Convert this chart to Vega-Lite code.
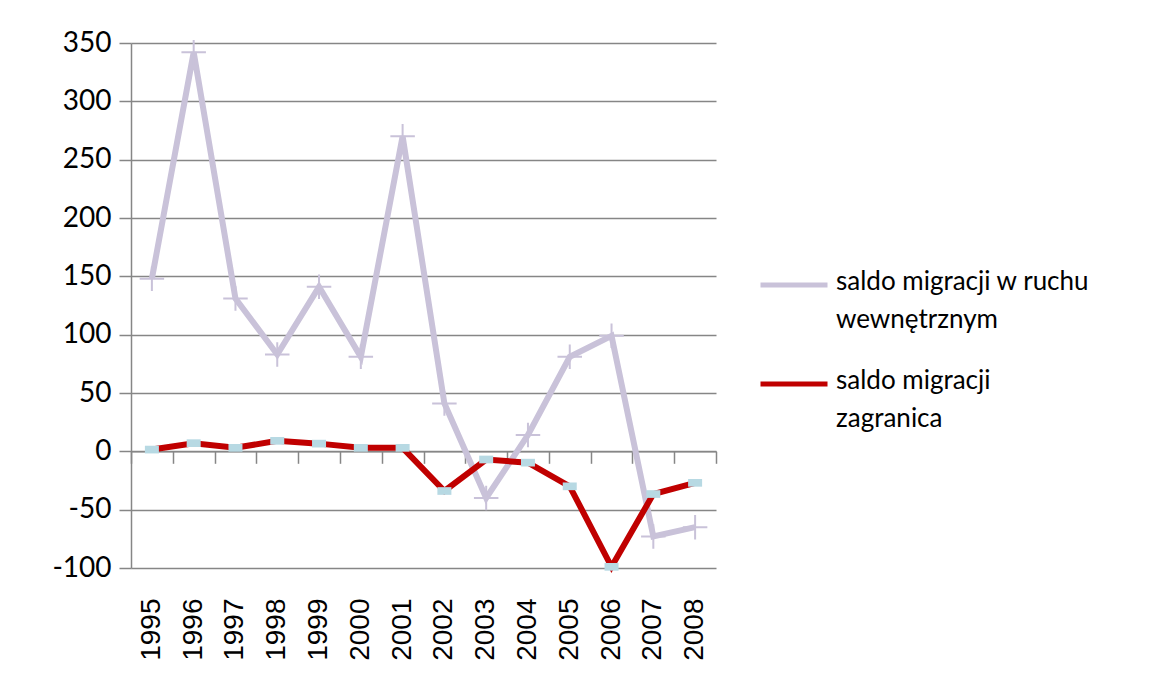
{
  "$schema": "https://vega.github.io/schema/vega-lite/v6.json",
  "autosize": {"type": "none"},
  "padding": {"left": 131, "top": 43, "right": 434, "bottom": 121},
  "width": 585,
  "height": 525,
  "background": "white",
  "config": {"view": {"stroke": null}},
  "data": {"values": [
    {"year": "1995", "series": "saldo migracji w ruchu wewnętrznym", "value": 148},
    {"year": "1996", "series": "saldo migracji w ruchu wewnętrznym", "value": 342},
    {"year": "1997", "series": "saldo migracji w ruchu wewnętrznym", "value": 131},
    {"year": "1998", "series": "saldo migracji w ruchu wewnętrznym", "value": 83},
    {"year": "1999", "series": "saldo migracji w ruchu wewnętrznym", "value": 141},
    {"year": "2000", "series": "saldo migracji w ruchu wewnętrznym", "value": 81},
    {"year": "2001", "series": "saldo migracji w ruchu wewnętrznym", "value": 270},
    {"year": "2002", "series": "saldo migracji w ruchu wewnętrznym", "value": 41},
    {"year": "2003", "series": "saldo migracji w ruchu wewnętrznym", "value": -40},
    {"year": "2004", "series": "saldo migracji w ruchu wewnętrznym", "value": 14},
    {"year": "2005", "series": "saldo migracji w ruchu wewnętrznym", "value": 81},
    {"year": "2006", "series": "saldo migracji w ruchu wewnętrznym", "value": 99},
    {"year": "2007", "series": "saldo migracji w ruchu wewnętrznym", "value": -73},
    {"year": "2008", "series": "saldo migracji w ruchu wewnętrznym", "value": -65},
    {"year": "1995", "series": "saldo migracji zagranica", "value": 1.5},
    {"year": "1996", "series": "saldo migracji zagranica", "value": 7},
    {"year": "1997", "series": "saldo migracji zagranica", "value": 3},
    {"year": "1998", "series": "saldo migracji zagranica", "value": 9},
    {"year": "1999", "series": "saldo migracji zagranica", "value": 6.6},
    {"year": "2000", "series": "saldo migracji zagranica", "value": 3},
    {"year": "2001", "series": "saldo migracji zagranica", "value": 3},
    {"year": "2002", "series": "saldo migracji zagranica", "value": -34},
    {"year": "2003", "series": "saldo migracji zagranica", "value": -7},
    {"year": "2004", "series": "saldo migracji zagranica", "value": -9.7},
    {"year": "2005", "series": "saldo migracji zagranica", "value": -30},
    {"year": "2006", "series": "saldo migracji zagranica", "value": -99},
    {"year": "2007", "series": "saldo migracji zagranica", "value": -36.6},
    {"year": "2008", "series": "saldo migracji zagranica", "value": -27}
  ]},
  "resolve": {"axis": {"x": "independent"}},
  "layer": [
    {
      "mark": {"type": "line", "strokeWidth": 6, "strokeJoin": "miter"},
      "encoding": {
        "x": {"field": "year", "type": "ordinal", "bandPosition": 0.5,
          "scale": {"type": "band", "paddingInner": 0, "paddingOuter": 0},
          "axis": {"orient": "bottom", "title": null, "domain": false, "ticks": false, "grid": false,
            "labelAngle": -90, "labelAlign": "right", "labelBaseline": "middle", "labelPadding": 30,
            "labelFont": "Liberation Sans", "labelFontSize": 28, "labelColor": "#000000"}},
        "y": {"field": "value", "type": "quantitative",
          "scale": {"domain": [-100, 350], "nice": false, "zero": false},
          "axis": {"title": null, "values": [-100, -50, 0, 50, 100, 150, 200, 250, 300, 350],
            "labelExpr": "'' + datum.value",
            "domain": true, "domainColor": "#868686", "domainWidth": 1.5,
            "ticks": true, "tickSize": 12, "tickColor": "#868686", "tickWidth": 1.5,
            "grid": true, "gridColor": "#868686", "gridWidth": 1.5,
            "labelFont": "Lato", "labelFontSize": 28, "labelColor": "#000000", "labelPadding": 8}},
        "color": {"field": "series", "type": "nominal",
          "scale": {"domain": ["saldo migracji w ruchu wewnętrznym", "saldo migracji zagranica"], "range": ["#c9c2d9", "#c00000"]},
          "legend": {"title": null, "orient": "none", "legendX": 627, "legendY": 206,
            "symbolType": "stroke", "symbolSize": 4489, "symbolStrokeWidth": 5,
            "labelFont": "Lato", "labelFontSize": 26, "labelColor": "#000000", "labelLimit": 400,
            "labelOffset": 6, "rowPadding": 15, "labelBaseline": "top",
            "labelExpr": "datum.value == 'saldo migracji zagranica' ? ['saldo migracji', 'zagranica'] : ['saldo migracji w ruchu', 'wewnętrznym']",
            "padding": 0,
            "encode": {"labels": {"update": {"dy": {"value": -16}, "lineHeight": {"value": 38}}}}}}
      }
    },
    {
      "transform": [{"filter": "datum.series == 'saldo migracji w ruchu wewnętrznym'"}],
      "mark": {"type": "point", "shape": "M-1,0H1M0,-1V1", "filled": false, "size": 600, "strokeWidth": 2, "color": "#c9c2d9", "opacity": 1},
      "encoding": {
        "x": {"field": "year", "type": "ordinal", "bandPosition": 0.5,
          "axis": {"orient": "bottom", "offset": -116.7, "title": null, "labels": false, "domain": true,
            "domainColor": "#868686", "domainWidth": 1.5, "ticks": true, "tickBand": "extent",
            "tickSize": 12, "tickColor": "#868686", "tickWidth": 1.5, "grid": false}},
        "y": {"field": "value", "type": "quantitative"}
      }
    },
    {
      "transform": [{"filter": "datum.series == 'saldo migracji zagranica'"}],
      "mark": {"type": "point", "shape": "M-1,-0.55H1V0.55H-1Z", "filled": true, "size": 196, "color": "#b7d9e3", "opacity": 1},
      "encoding": {
        "x": {"field": "year", "type": "ordinal", "bandPosition": 0.5, "axis": null},
        "y": {"field": "value", "type": "quantitative"}
      }
    }
  ]
}
